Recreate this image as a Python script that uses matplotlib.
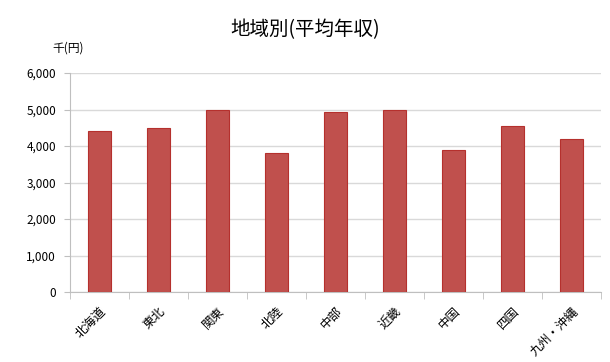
import matplotlib
matplotlib.use('Agg')
import matplotlib.pyplot as plt
import numpy as np

plt.rcParams['font.family'] = ['Noto Sans CJK JP', 'DejaVu Sans']

regions = ['北海道', '東北', '関東', '北陸', '中部', '近畿', '中国', '四国', '九州・沖縄']
income = [4400, 4500, 5000, 3800, 4920, 4990, 3890, 4560, 4200]
yticks = [0, 1000, 2000, 3000, 4000, 5000, 6000]

fig = plt.figure(figsize=(6.1, 3.62), dpi=100)
ax = fig.add_axes([70/610, 1-292/362, 531/610, 219/362])

x = np.arange(len(regions))
ax.bar(x, income, width=0.4, color='#C0504D', edgecolor='#B5302D', linewidth=0.8, zorder=3)

ax.set_xlim(-0.5, len(regions) - 0.5)
ax.set_ylim(0, 6000)
ax.set_yticks(yticks)
ax.set_yticklabels(['{:,}'.format(v) for v in yticks], fontsize=8.5)
ax.yaxis.grid(True, color='#D9D9D9', linewidth=1, zorder=0)
ax.tick_params(axis='y', length=4, color='#BFBFBF', pad=6)

# category labels between boundary ticks
ax.set_xticks(x)
ax.set_xticklabels(regions, rotation=45, ha='right', rotation_mode='anchor', fontsize=9)
ax.tick_params(axis='x', length=0, pad=9)
ax.set_xticks(np.arange(len(regions) + 1) - 0.5, minor=True)
ax.tick_params(axis='x', which='minor', length=5, color='#BFBFBF')

for s in ['top', 'right']:
  ax.spines[s].set_visible(False)
for s in ['left', 'bottom']:
  ax.spines[s].set_color('#BFBFBF')

fig.text(0.5, 1-30/362, '地域別(平均年収)', ha='center', va='center', fontsize=14)
fig.text(52/610, 1-48/362, '千(円)', ha='left', va='center', fontsize=8.5)

fig.savefig('out.png', dpi=100)
